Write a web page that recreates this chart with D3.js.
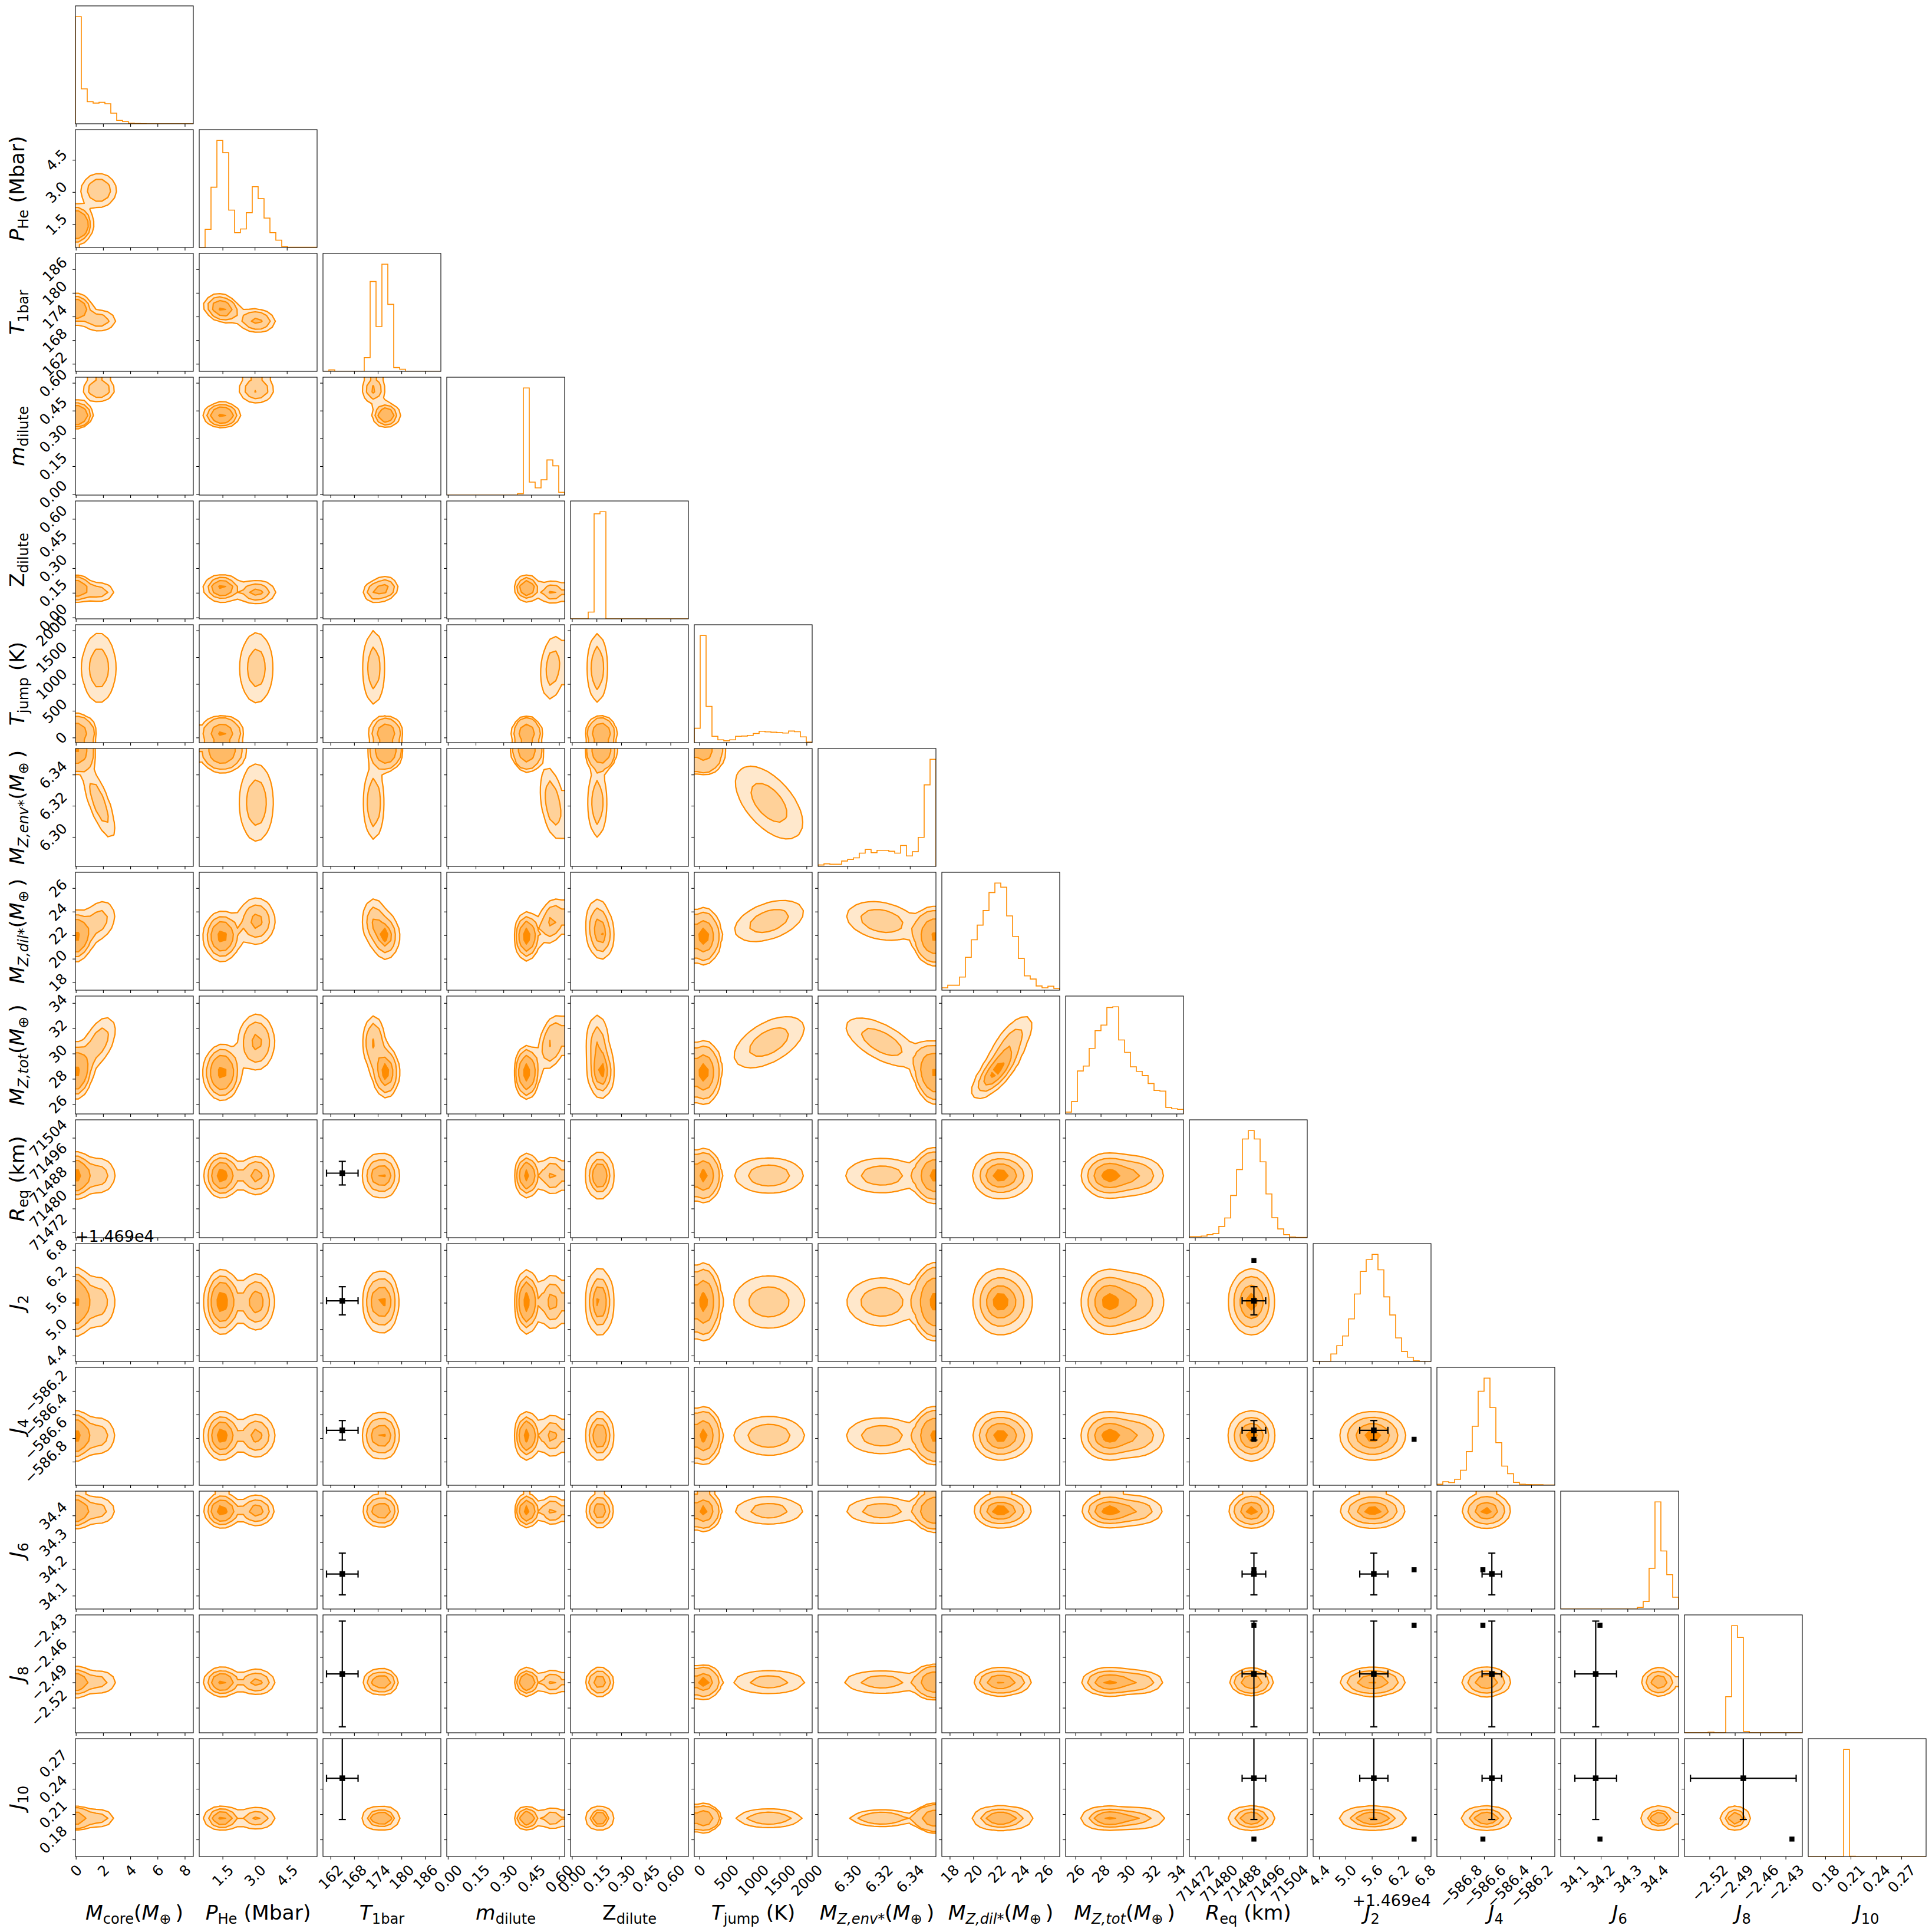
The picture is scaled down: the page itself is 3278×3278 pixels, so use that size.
<!DOCTYPE html>
<html>
<head>
<meta charset="utf-8">
<script src="https://cdn.jsdelivr.net/npm/d3@7"></script>
<style>
body { margin: 0; background: #fff; }
text { font-family: "DejaVu Sans", sans-serif; fill: #000; }
</style>
</head>
<body>
<svg id="chart" width="3278" height="3278"></svg>
<script>
// ---- parameters (corner order) ----
const params = ['Mcore', 'PHe', 'T1bar', 'mdilute', 'Zdilute', 'Tjump', 'MZenv', 'MZdil', 'MZtot',
    'Req', 'J2', 'J4', 'J6', 'J8', 'J10'];

const ranges = [
    [-0.03, 8.63], [0.41, 5.91], [160.1, 190.0], [-0.006, 0.6305], [-0.0086, 0.709],
    [-95, 2106], [6.2811, 6.3567], [17.33, 27.34], [25.22, 34.55], [71470.1, 71510.1],
    [4.266, 6.945], [-587.0, -586.0], [34.05, 34.491], [-2.5496, -2.4102], [0.1598, 0.2993]
];

const ticks = [
    [0, 2, 4, 6, 8], [1.5, 3.0, 4.5], [162, 168, 174, 180, 186], [0, 0.15, 0.30, 0.45, 0.60],
    [0, 0.15, 0.30, 0.45, 0.60], [0, 500, 1000, 1500, 2000], [6.30, 6.32, 6.34],
    [18, 20, 22, 24, 26], [26, 28, 30, 32, 34], [71472, 71480, 71488, 71496, 71504],
    [4.4, 5.0, 5.6, 6.2, 6.8], [-586.8, -586.6, -586.4, -586.2], [34.1, 34.2, 34.3, 34.4],
    [-2.52, -2.49, -2.46, -2.43], [0.18, 0.21, 0.24, 0.27]
];
const tickDecimals = [0, 1, 0, 2, 2, 0, 2, 0, 0, 0, 1, 1, 1, 2, 2];
const j2Offset = '+1.469e4';

const labelParts = [
    [['M', 'i'], ['core', 'sr'], ['(', 'r'], ['M', 'i'], ['\u2295', 'sr'], ['\u2009)', 'r']],
    [['P', 'i'], ['He', 'sr'], [' (Mbar)', 'r']],
    [['T', 'i'], ['1bar', 'sr']],
    [['m', 'i'], ['dilute', 'sr']],
    [['Z', 'r'], ['dilute', 'sr']],
    [['T', 'i'], ['jump', 'sr'], [' (K)', 'r']],
    [['M', 'i'], ['Z,env*', 'si'], ['(', 'r'], ['M', 'i'], ['\u2295', 'sr'], ['\u2009)', 'r']],
    [['M', 'i'], ['Z,dil*', 'si'], ['(', 'r'], ['M', 'i'], ['\u2295', 'sr'], ['\u2009)', 'r']],
    [['M', 'i'], ['Z,tot', 'si'], ['(', 'r'], ['M', 'i'], ['\u2295', 'sr'], ['\u2009)', 'r']],
    [['R', 'i'], ['eq', 'sr'], [' (km)', 'r']],
    [['J', 'i'], ['2', 'sr']],
    [['J', 'i'], ['4', 'sr']],
    [['J', 'i'], ['6', 'sr']],
    [['J', 'i'], ['8', 'sr']],
    [['J', 'i'], ['10', 'sr']]
];

// 1D histograms (20 bins over each range, relative heights)
const hists = [
    [1.0, 0.326, 0.206, 0.193, 0.2, 0.187, 0.099, 0.032, 0.021, 0.005, 0.002, 0.001, 0, 0, 0, 0, 0, 0, 0, 0],
    [0, 0.17, 0.563, 1.0, 0.885, 0.349, 0.139, 0.173, 0.325, 0.568, 0.456, 0.275, 0.139, 0.069, 0.01, 0.003, 0.003, 0.002, 0.002, 0.002],
    [0, 0.013, 0, 0, 0, 0, 0, 0.128, 0.838, 0.418, 1.0, 0.625, 0.035, 0.019, 0, 0, 0, 0, 0, 0],
    [0, 0, 0, 0, 0, 0, 0, 0, 0, 0, 0, 0, 0.013, 1.0, 0.121, 0.067, 0.143, 0.328, 0.273, 0.026],
    [0, 0, 0, 0.063, 0.98, 1.0, 0, 0, 0, 0, 0, 0, 0, 0, 0, 0, 0, 0, 0, 0],
    [0.134, 1.0, 0.338, 0.059, 0.026, 0.017, 0.026, 0.059, 0.061, 0.067, 0.085, 0.106, 0.1, 0.097, 0.093, 0.089, 0.108, 0.102, 0.054, 0.005],
    [0.013, 0.024, 0.02, 0.02, 0.05, 0.065, 0.08, 0.124, 0.158, 0.128, 0.15, 0.15, 0.141, 0.124, 0.195, 0.098, 0.137, 0.271, 0.761, 1.0],
    [0.022, 0.046, 0.046, 0.122, 0.307, 0.47, 0.607, 0.743, 0.911, 1.0, 0.961, 0.693, 0.502, 0.296, 0.133, 0.104, 0.039, 0.022, 0.037, 0.017],
    [0.017, 0.115, 0.401, 0.447, 0.612, 0.777, 0.829, 0.993, 1.0, 0.69, 0.575, 0.44, 0.397, 0.358, 0.284, 0.219, 0.213, 0.061, 0.048, 0.043],
    [0.009, 0.009, 0.015, 0.029, 0.038, 0.105, 0.184, 0.394, 0.636, 0.921, 1.0, 0.921, 0.708, 0.408, 0.187, 0.082, 0.029, 0.006, 0.003, 0.003],
    [0, 0, 0, 0.07, 0.147, 0.238, 0.397, 0.63, 0.84, 0.95, 1.0, 0.855, 0.603, 0.434, 0.22, 0.093, 0.04, 0.007, 0, 0],
    [0.01, 0.033, 0.025, 0.055, 0.14, 0.314, 0.55, 0.877, 1.0, 0.725, 0.397, 0.179, 0.108, 0.027, 0.01, 0.007, 0.005, 0.005, 0.003, 0.003],
    [0, 0, 0, 0, 0, 0, 0, 0, 0, 0, 0, 0, 0, 0.015, 0.07, 0.38, 1.0, 0.542, 0.32, 0.11],
    [0, 0, 0, 0, 0.006, 0, 0, 0.337, 1.0, 0.89, 0.012, 0, 0, 0, 0, 0, 0, 0, 0, 0],
    [0, 0, 0, 0, 0, 0, 1.0, 0.003, 0, 0, 0, 0, 0, 0, 0, 0, 0, 0, 0, 0]
];

// posterior modes used for the 2D panels (low-P_He mode A, high-P_He mode B)
const modeWeights = [0.58, 0.42];
const modeMeanA = [0.15, 1.47, 176.1, 0.427, 0.178, 95, 6.3535, 21.9, 28.5, 71491.2, 5.62, -586.58, 34.418, -2.4895, 0.2053];
const modeSdA = [0.28, 0.3, 0.85, 0.01, 0.014, 60, 0.003, 0.9, 0.95, 3.3, 0.35, 0.09, 0.024, 0.0045, 0.0018];
const modeMeanB = [1.7, 3.08, 173.0, 0.563, 0.155, 1300, 6.322, 23.2, 30.9, 71491.2, 5.62, -586.58, 34.418, -2.4895, 0.2053];
const modeSdB = [0.65, 0.4, 0.65, 0.028, 0.014, 400, 0.015, 1.0, 1.2, 3.3, 0.35, 0.09, 0.024, 0.0045, 0.0018];
// [param a, param b, rho in A, rho in B]
const modeCorr = [
    [0, 6, -0.5, -0.95], [0, 7, 0, 0.35], [0, 8, 0.3, 0.65], [1, 2, -0.55, -0.3],
    [3, 5, 0, 0.3], [3, 6, 0, -0.6], [3, 7, 0, 0.4], [3, 8, 0, 0.5],
    [5, 6, 0, -0.6], [5, 7, 0, 0.5], [5, 8, 0, 0.6], [6, 7, 0, -0.3], [6, 8, -0.3, -0.7],
    [7, 8, 0.95, 0.85]
];
const contourMass = [0.118, 0.393, 0.675, 0.865];

// observed values with errors (crosses) and a reference model (squares)
const obsParams = [2, 9, 10, 11, 12, 13, 14];
const obsValue = [165.0, 71492.0, 5.645, -586.534, 34.181, -2.480, 0.2525];
const obsError = [4.0, 4.0, 0.32, 0.083, 0.078, 0.0625, 0.0488];
const refParams = [9, 10, 11, 12, 13, 14];
const refValue = [71492.0, 6.56, -586.61, 34.197, -2.4225, 0.1805];

// ---- layout ----
const X0 = 128, Y0 = 10, PS = 200, STEP = 210;
const NB = 20, SMOOTH = 1.0;
const K = params.length;
const ORANGE = '#ff8c00';
const FILLS = ['#ffe8cc', '#ffd199', '#ffba66', '#ff8c00'];
const TICK_FS = 24.5, LABEL_FS = 34.5, OFFSET_FS = 27, TICK_LEN = 4.9, TICK_PAD = 4.9;

const svg = d3.select('#chart');
svg.append('rect').attr('width', 3278).attr('height', 3278).attr('fill', '#fff');
const defs = svg.append('defs');

const xScale = p => d3.scaleLinear().domain(ranges[p]).range([X0 + STEP * p, X0 + STEP * p + PS]);
const yScale = p => d3.scaleLinear().domain(ranges[p]).range([Y0 + STEP * p + PS, Y0 + STEP * p]);
const fmt = p => d3.format(`.${tickDecimals[p]}f`);

function Phi(z) {
    const t = 1 / (1 + 0.2316419 * Math.abs(z));
    const d = 0.3989423 * Math.exp(-z * z / 2);
    const q = d * t * (0.3193815 + t * (-0.3565638 + t * (1.781478 + t * (-1.821256 + t * 1.330274))));
    return z > 0 ? 1 - q : q;
}

function rho(a, b, k) {
    const c = modeCorr.find(d => (d[0] === a && d[1] === b) || (d[0] === b && d[1] === a));
    return c ? c[2 + k] : 0;
}

function hist2d(px, py) {
    const [xl, xh] = ranges[px], [yl, yh] = ranges[py];
    const bx = (xh - xl) / NB, by = (yh - yl) / NB;
    const H = new Float64Array(NB * NB);
    const means = [modeMeanA, modeMeanB], sds = [modeSdA, modeSdB];
    const SUB = 6;
    modeWeights.forEach((w, k) => {
        const mx = means[k][px], sx = sds[k][px], my = means[k][py], sy = sds[k][py];
        const r = rho(px, py, k);
        const cs = sy * Math.sqrt(1 - r * r);
        for (let ix = 0; ix < NB; ix++) {
            for (let s = 0; s < SUB; s++) {
                const a = xl + (ix + s / SUB) * bx, b = a + bx / SUB;
                const p = Phi((b - mx) / sx) - Phi((a - mx) / sx);
                if (p < 1e-12) continue;
                const cm = my + r * sy / sx * ((a + b) / 2 - mx);
                for (let iy = 0; iy < NB; iy++) {
                    const q = Phi((yl + (iy + 1) * by - cm) / cs) - Phi((yl + iy * by - cm) / cs);
                    H[ix * NB + iy] += w * p * q;
                }
            }
        }
    });
    // gaussian smoothing (reflect at edges)
    const R = 4, kern = d3.range(-R, R + 1).map(d => Math.exp(-d * d / (2 * SMOOTH * SMOOTH)));
    const ks = d3.sum(kern);
    const refl = i => i < 0 ? -i - 1 : (i >= NB ? 2 * NB - i - 1 : i);
    const T = new Float64Array(NB * NB), S = new Float64Array(NB * NB);
    for (let ix = 0; ix < NB; ix++) for (let iy = 0; iy < NB; iy++) {
        let v = 0;
        for (let d = -R; d <= R; d++) v += kern[d + R] * H[refl(ix + d) * NB + iy];
        T[ix * NB + iy] = v / ks;
    }
    for (let ix = 0; ix < NB; ix++) for (let iy = 0; iy < NB; iy++) {
        let v = 0;
        for (let d = -R; d <= R; d++) v += kern[d + R] * T[ix * NB + refl(iy + d)];
        S[ix * NB + iy] = v / ks;
    }
    return { H: S, bx, by, xl, yl };
}

function contourPanel(g, px, py) {
    const { H, bx, by, xl, yl } = hist2d(px, py);
    const flat = Array.from(H).sort((a, b) => b - a);
    const tot = d3.sum(flat);
    let cum = 0;
    const sm = flat.map(v => (cum += v) / tot);
    const V = contourMass.map(L => {
        let idx = -1;
        sm.forEach((v, i) => { if (v <= L) idx = i; });
        return idx >= 0 ? flat[idx] : flat[0];
    }).sort((a, b) => a - b);

    const N2 = NB + 4;
    const hmin = d3.min(flat);
    const vals = new Float64Array(N2 * N2).fill(hmin);
    const at = (gx, gy) => gy * N2 + gx;
    for (let ix = 0; ix < NB; ix++) for (let iy = 0; iy < NB; iy++) {
        vals[at(ix + 2, iy + 2)] = H[ix * NB + iy];
    }
    for (let i = 0; i < NB; i++) {
        vals[at(1, i + 2)] = H[0 * NB + i];
        vals[at(N2 - 2, i + 2)] = H[(NB - 1) * NB + i];
        vals[at(i + 2, 1)] = H[i * NB + 0];
        vals[at(i + 2, N2 - 2)] = H[i * NB + NB - 1];
    }
    vals[at(1, 1)] = H[0];
    vals[at(N2 - 2, 1)] = H[(NB - 1) * NB];
    vals[at(1, N2 - 2)] = H[NB - 1];
    vals[at(N2 - 2, N2 - 2)] = H[NB * NB - 1];

    const xs = xScale(px), ys = yScale(py);
    const path = d3.geoPath(d3.geoTransform({
        point(x, y) { this.stream.point(xs(xl + (x - 2) * bx), ys(yl + (y - 2) * by)); }
    }));
    const cs = d3.contours().size([N2, N2]).thresholds(V)(vals);
    g.selectAll('path.fill').data(cs).enter().append('path')
        .attr('class', 'fill')
        .attr('d', path)
        .attr('fill', (d, i) => FILLS[i])
        .attr('stroke', 'none');
    g.selectAll('path.line').data(cs).enter().append('path')
        .attr('class', 'line')
        .attr('d', path)
        .attr('fill', 'none')
        .attr('stroke', ORANGE)
        .attr('stroke-width', 2.2)
        .attr('stroke-linejoin', 'round');
}

function histPanel(g, p) {
    const xs = xScale(p);
    const counts = hists[p];
    const top = Y0 + STEP * p;
    const ys = d3.scaleLinear().domain([0, 1.1 * d3.max(counts)]).range([top + PS, top]);
    const [lo, hi] = ranges[p];
    const bw = (hi - lo) / NB;
    const pts = [[lo, 0]];
    counts.forEach((c, k) => { pts.push([lo + k * bw, c]); pts.push([lo + (k + 1) * bw, c]); });
    pts.push([hi, 0]);
    g.append('path')
        .attr('d', d3.line().x(d => xs(d[0])).y(d => ys(d[1]))(pts))
        .attr('fill', 'none')
        .attr('stroke', ORANGE)
        .attr('stroke-width', 1.6);
}

function markers(g, px, py) {
    const xs = xScale(px), ys = yScale(py);
    const oi = obsParams.indexOf(px), oj = obsParams.indexOf(py);
    if (oi >= 0 && oj >= 0) {
        const x = obsValue[oi], y = obsValue[oj], ex = obsError[oi], ey = obsError[oj];
        const cap = 6;
        const lines = [
            [xs(x - ex), ys(y), xs(x + ex), ys(y)],
            [xs(x), ys(y - ey), xs(x), ys(y + ey)],
            [xs(x - ex), ys(y) - cap, xs(x - ex), ys(y) + cap],
            [xs(x + ex), ys(y) - cap, xs(x + ex), ys(y) + cap],
            [xs(x) - cap, ys(y - ey), xs(x) + cap, ys(y - ey)],
            [xs(x) - cap, ys(y + ey), xs(x) + cap, ys(y + ey)]
        ];
        g.selectAll('line.err').data(lines).enter().append('line')
            .attr('class', 'err')
            .attr('x1', d => d[0]).attr('y1', d => d[1])
            .attr('x2', d => d[2]).attr('y2', d => d[3])
            .attr('stroke', '#000').attr('stroke-width', 2.2);
        g.append('rect')
            .attr('x', xs(x) - 4.75).attr('y', ys(y) - 4.75)
            .attr('width', 9.5).attr('height', 9.5).attr('fill', '#000');
    }
    const ri = refParams.indexOf(px), rj = refParams.indexOf(py);
    if (ri >= 0 && rj >= 0) {
        g.append('rect')
            .attr('x', xs(refValue[ri]) - 4.25).attr('y', ys(refValue[rj]) - 4.25)
            .attr('width', 8.5).attr('height', 8.5).attr('fill', '#000');
    }
}

function mathText(sel, parts, size) {
    let shift = 0;
    parts.forEach(([t, s]) => {
        const sub = s[0] === 's';
        const target = sub ? size * 0.2 : 0;
        sel.append('tspan').text(t)
            .attr('dy', target - shift)
            .style('font-size', (sub ? size * 0.7 : size) + 'px')
            .style('font-style', s.endsWith('i') ? 'italic' : 'normal');
        shift = target;
    });
}

function rotateTickLabels(axisG, mode) {
    const pad = TICK_LEN + TICK_PAD;
    axisG.selectAll('.tick text').each(function () {
        const t = d3.select(this);
        t.attr('x', null).attr('y', null).attr('dy', null)
            .attr('text-anchor', 'middle')
            .attr('dominant-baseline', 'central')
            .style('font-size', TICK_FS + 'px');
        const L = this.getComputedTextLength();
        const half = (L + TICK_FS) / Math.SQRT2 / 2;
        if (mode === 'x') t.attr('transform', `translate(0,${pad + half}) rotate(-45)`);
        else t.attr('transform', `translate(${-pad - half},0) rotate(-45)`);
    });
}

// ---- panels ----
for (let i = 0; i < K; i++) {
    for (let j = 0; j <= i; j++) {
        const left = X0 + STEP * j, top = Y0 + STEP * i;
        const id = `clip-${i}-${j}`;
        defs.append('clipPath').attr('id', id)
            .append('rect').attr('x', left).attr('y', top).attr('width', PS).attr('height', PS);
        const g = svg.append('g').attr('clip-path', `url(#${id})`);

        if (i === j) histPanel(g, i);
        else {
            contourPanel(g, j, i);
            markers(g, j, i);
        }

        // bottom axis
        const xAxis = d3.axisBottom(xScale(j))
            .tickValues(ticks[j])
            .tickSize(TICK_LEN)
            .tickFormat(i === K - 1 ? fmt(j) : () => '');
        const xAxisG = svg.append('g')
            .attr('transform', `translate(0,${top + PS})`)
            .attr('font-size', null).attr('font-family', null)
            .call(xAxis);
        xAxisG.select('.domain').remove();
        xAxisG.selectAll('.tick line').attr('stroke', '#000').attr('stroke-width', 1.1);
        if (i === K - 1) rotateTickLabels(xAxisG, 'x');

        // left axis
        if (i !== j) {
            const yAxis = d3.axisLeft(yScale(i))
                .tickValues(ticks[i])
                .tickSize(TICK_LEN)
                .tickFormat(j === 0 ? fmt(i) : () => '');
            const yAxisG = svg.append('g')
                .attr('transform', `translate(${left},0)`)
                .attr('font-size', null).attr('font-family', null)
                .call(yAxis);
            yAxisG.select('.domain').remove();
            yAxisG.selectAll('.tick line').attr('stroke', '#000').attr('stroke-width', 1.1);
            if (j === 0) rotateTickLabels(yAxisG, 'y');
        }

        svg.append('rect')
            .attr('x', left).attr('y', top).attr('width', PS).attr('height', PS)
            .attr('fill', 'none').attr('stroke', '#000').attr('stroke-width', 1.1);
    }
}

// ---- axis labels ----
for (let p = 0; p < K; p++) {
    const xl = svg.append('text')
        .attr('x', X0 + STEP * p + PS / 2)
        .attr('y', 3257)
        .attr('text-anchor', 'middle');
    mathText(xl, labelParts[p], LABEL_FS);
    if (p > 0) {
        const cy = Y0 + STEP * p + PS / 2;
        const yl = svg.append('text')
            .attr('transform', `translate(41,${cy}) rotate(-90)`)
            .attr('text-anchor', 'middle');
        mathText(yl, labelParts[p], LABEL_FS);
    }
}

// offset texts for J2
const j2 = params.indexOf('J2');
svg.append('text')
    .attr('x', X0).attr('y', Y0 + STEP * j2 - 3)
    .style('font-size', OFFSET_FS + 'px')
    .text(j2Offset);
svg.append('text')
    .attr('x', X0 + STEP * j2 + PS).attr('y', 3234)
    .attr('text-anchor', 'end')
    .style('font-size', OFFSET_FS + 'px')
    .text(j2Offset);
</script>
</body>
</html>
